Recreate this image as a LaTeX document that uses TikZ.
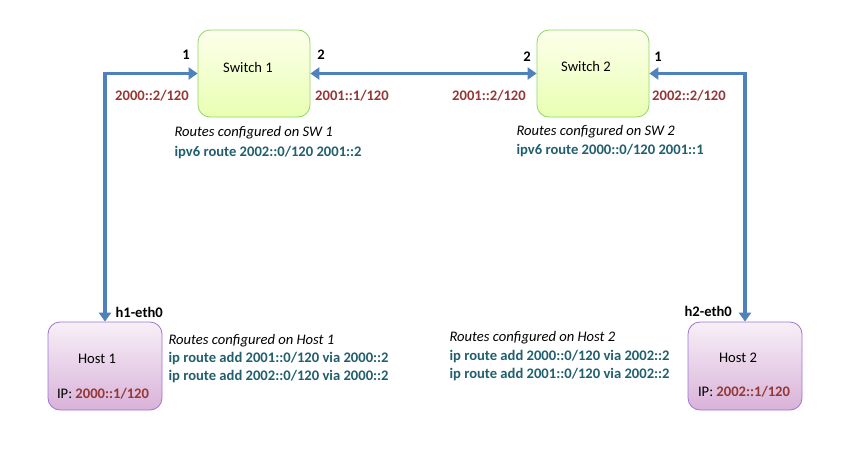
\documentclass[tikz,border=0pt]{standalone}
\usepackage{fontspec}
\setmainfont{Carlito}
\usetikzlibrary{arrows.meta}
\definecolor{linkblue}{HTML}{4F81BD}
\definecolor{addrred}{HTML}{953735}
\definecolor{cmdteal}{HTML}{215F6E}
\newcommand{\diagfont}{\fontsize{14.6}{17}\selectfont}
\tikzset{
  switchbox/.style={draw=green!45!olive!60, rounded corners=12pt, minimum width=112pt,
    minimum height=87pt, top color=green!10!yellow!8, bottom color=green!30!yellow!30, line width=0.8pt},
  hostbox/.style={draw=violet!60!blue!55, rounded corners=12pt, minimum width=114pt,
    minimum height=88pt, top color=violet!6, bottom color=violet!30, line width=0.8pt},
  link/.style={linkblue, line width=3.5pt, {Triangle[length=9pt,width=12pt]}-{Triangle[length=9pt,width=12pt]}},
  addr/.style={text=addrred, font=\diagfont\bfseries},
  cmd/.style={text=cmdteal, font=\diagfont\bfseries, anchor=west},
  port/.style={font=\diagfont\bfseries},
  note/.style={font=\diagfont\itshape, anchor=west}
}
\begin{document}
\begin{tikzpicture}[x=1pt, y=-1pt, font=\diagfont]
  \useasboundingbox (0,0) rectangle (854,453);
  % boxes
  \node[switchbox] (sw1) at (254,73.5) {};
  \node[switchbox] (sw2) at (593,73.5) {};
  \node[hostbox] (h1) at (105,366) {};
  \node[hostbox] (h2) at (745,366) {};
  \node (sw1txt) at (248,67) {Switch 1};
  \node (sw2txt) at (586,66) {Switch 2};
  \node (h1txt) at (97,359) {Host 1};
  \node (h2txt) at (738,358) {Host 2};
  \node (h1ip) at (103,394) {IP: \textcolor{addrred}{\bfseries 2000::1/120}};
  \node (h2ip) at (744,392) {IP: \textcolor{addrred}{\bfseries 2002::1/120}};
  % links
  \draw[link] (h1.north) |- (sw1.west);
  \draw[link] (sw1.east) -- (sw2.west);
  \draw[link] (h2.north) |- (sw2.east);
  % ports
  \node[port] (p11) at (186,55) {1};
  \node[port] (p12) at (321,55) {2};
  \node[port] (p22) at (527,57) {2};
  \node[port] (p21) at (658,57) {1};
  \node[port, anchor=west] (eth1) at (112,312) {h1-eth0};
  \node[port, anchor=west] (eth2) at (681,311) {h2-eth0};
  % addresses
  \node[addr] (a1) at (152,96) {2000::2/120};
  \node[addr] (a2) at (352,96) {2001::1/120};
  \node[addr] (a3) at (489,96) {2001::2/120};
  \node[addr] (a4) at (689,96) {2002::2/120};
  % routes
  \node[note] (r1) at (171,133) {Routes configured on SW 1};
  \node[cmd] (r1a) at (171,153) {ipv6 route 2002::0/120 2001::2};
  \node[note] (r2) at (513,132) {Routes configured on SW 2};
  \node[cmd] (r2a) at (513,151) {ipv6 route 2000::0/120 2001::1};
  \node[note] (r3) at (165,341) {Routes configured on Host 1};
  \node[cmd] (r3a) at (165,359) {ip route add 2001::0/120 via 2000::2};
  \node[cmd] (r3b) at (165,377) {ip route add 2002::0/120 via 2000::2};
  \node[note] (r4) at (446,338) {Routes configured on Host 2};
  \node[cmd] (r4a) at (446,357) {ip route add 2000::0/120 via 2002::2};
  \node[cmd] (r4b) at (446,375) {ip route add 2001::0/120 via 2002::2};
\end{tikzpicture}
\end{document}
